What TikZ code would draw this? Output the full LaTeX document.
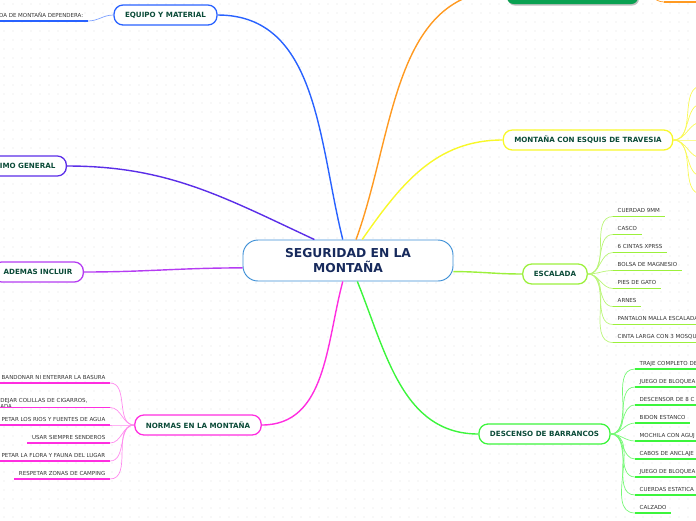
\documentclass[tikz,border=0pt]{standalone}
\usepackage{fontspec}
\setmainfont{DejaVu Sans}
\usepackage{xcolor}
\usepackage{tikz}
\usetikzlibrary{positioning,calc}
\definecolor{DOT}{HTML}{E2E2E2}
\definecolor{CORE}{HTML}{3D8FD6}
\definecolor{COREINK}{HTML}{172A5C}
\definecolor{LABEL}{HTML}{0B4B38}
\definecolor{LEAF}{HTML}{333333}
\definecolor{BLUE}{HTML}{2962FF}
\definecolor{INDIGO}{HTML}{5B2EE8}
\definecolor{VIOLET}{HTML}{B53CF2}
\definecolor{PINK}{HTML}{FF2EE0}
\definecolor{GREEN}{HTML}{3CF53C}
\definecolor{LIME}{HTML}{9CF03C}
\definecolor{YELLOW}{HTML}{F8F82A}
\definecolor{ORANGE}{HTML}{FF9A22}
\definecolor{TOPGREEN}{HTML}{0AA152}

\begin{document}
\begin{tikzpicture}[
  x=0.03cm, y=-0.03cm,
  core/.style={rounded corners=0.45cm, draw=CORE, fill=white, line width=0.8pt,
    minimum width=6.3cm, minimum height=1.23cm, align=center, text=COREINK,
    font=\fontsize{10.5}{12.8}\selectfont\bfseries},
  branch/.style={rounded corners=0.27cm, fill=white, line width=1.1pt,
    minimum height=0.6cm, inner xsep=0.33cm, inner ysep=0pt, text=LABEL,
    font=\fontsize{6.1}{7}\selectfont\bfseries},
  leafr/.style={anchor=south west, inner xsep=0.135cm, inner ysep=3pt,
    text depth=0pt, text=LEAF, font=\fontsize{4.7}{5.6}\selectfont},
  leafl/.style={leafr, anchor=south east},
  limb/.style={line width=1.2pt},
  twig/.style={line width=0.6pt},
  under/.style={line width=1.6pt},
]

\useasboundingbox (0,0) rectangle (696,520);
\clip (0,0) rectangle (696,520);

% ---- dotted paper ---------------------------------------------------------
\foreach \i in {4,13,...,700}
  \foreach \j in {4,13,...,520}
    \fill[DOT] (\i,\j) circle (0.45pt);

% ---- centre ---------------------------------------------------------------
\node[core] (core) at (348,260.5) {SEGURIDAD EN LA\\MONTAÑA};

% ---- branches -------------------------------------------------------------
\node[branch, draw=BLUE] (equip) at (165.5,15) {EQUIPO Y MATERIAL};
\node[branch, draw=INDIGO, anchor=east, text width=3cm, align=right] (minimo) at (67,166) {IMO GENERAL};
\node[branch, draw=VIOLET, anchor=east] (ademas) at (84,272) {ADEMAS INCLUIR};
\node[branch, draw=PINK] (normas) at (198,425) {NORMAS EN LA MONTAÑA};
\node[branch, draw=GREEN] (barr) at (544.5,434) {DESCENSO DE BARRANCOS};
\node[branch, draw=LIME] (esc) at (555,274) {ESCALADA};
\node[branch, draw=YELLOW] (esqui) at (588,140) {MONTAÑA CON ESQUIS DE TRAVESIA};
\fill[black!25, rounded corners=0.2cm] (508,-24) rectangle (639,5.5);
\node[fill=TOPGREEN, rounded corners=0.2cm, minimum width=3.93cm,
  minimum height=0.84cm] (top) at (572.5,-10) {};

% ---- limbs from the centre ------------------------------------------------
\draw[limb, BLUE] (core.104) to[out=104,in=0] (equip.east);
\draw[limb, INDIGO] (core.148) to[out=155,in=0] (minimo.east);
\draw[limb, VIOLET] (core.184) to[out=180,in=0] (ademas.east);
\draw[limb, PINK] (core.256) to[out=-105,in=0] (normas.east);
\draw[limb, GREEN] (core.294) to[out=-68,in=180] (barr.west);
\draw[limb, LIME] (core.-6) to[out=0,in=180] (esc.west);
\draw[limb, YELLOW] (core.56) to[out=55,in=180] (esqui.west);
\draw[limb, ORANGE] (core.69) to[out=70,in=180] (top.west);

% ---- equipo y material ----------------------------------------------------
\node[leafl] (eq1) at (88,21) {DA DE MONTAÑA DEPENDERA:};
\draw[twig, BLUE!60] (equip.west) to[out=180,in=0] (eq1.south east);
\draw[under, BLUE] (eq1.south west) -- (eq1.south east);

% ---- top (green) branch ---------------------------------------------------
\coordinate (topleaf) at (664,2);
\coordinate (topend) at (704,2);
\draw[twig, ORANGE] (top.east) to[out=0,in=180] (topleaf);
\draw[under, ORANGE] (topleaf) -- (topend);

% ---- esquis de travesia ---------------------------------------------------
\foreach \y in {86,104,...,194} {
  \coordinate (sk\y) at (702,\y);
  \draw[twig, YELLOW!80] (esqui.east) to[out=0,in=180] (sk\y);
}

% ---- escalada -------------------------------------------------------------
\foreach \t [count=\i] in {CUERDAD 9MM, CASCO, 6 CINTAS XPRSS, BOLSA DE MAGNESIO,
    PIES DE GATO, ARNES, PANTALON MALLA ESCALADA, CINTA LARGA CON 3 MOSQU} {
  \node[leafr] (e\i) at (613,{198.5+18*\i}) {\t};
  \draw[twig, LIME!70] (esc.east) to[out=0,in=180] (e\i.south west);
  \draw[under, LIME] (e\i.south west) -- (e\i.south east);
}

% ---- descenso de barrancos ------------------------------------------------
\foreach \t [count=\i] in {TRAJE COMPLETO DE, JUEGO DE BLOQUEA, DESCENSOR DE 8 C,
    BIDON ESTANCO, MOCHILA CON AGUJ, CABOS DE ANCLAJE, JUEGO DE BLOQUEA,
    CUERDAS ESTATICA, CALZADO} {
  \node[leafr] (d\i) at (635,{351+18*\i}) {\t};
  \draw[twig, GREEN!70] (barr.east) to[out=0,in=180] (d\i.south west);
  \draw[under, GREEN] (d\i.south west) -- (d\i.south east);
}

% ---- normas en la montana -------------------------------------------------
\node[leafl] (n1) at (110,383) {BANDONAR NI ENTERRAR LA BASURA};
\node[leafl, text width=3.15cm, align=left, inner ysep=4.5pt] (n2) at (110,407.5) {DEJAR COLILLAS DE CIGARROS,\\ADA};
\node[leafl] (n3) at (110,425) {PETAR LOS RIOS Y FUENTES DE AGUA};
\node[leafl] (n4) at (110,443) {USAR SIEMPRE SENDEROS};
\node[leafl] (n5) at (110,461) {PETAR LA FLORA Y FAUNA DEL LUGAR};
\node[leafl] (n6) at (110,479) {RESPETAR ZONAS DE CAMPING};
\foreach \n in {n1,n2,n3,n4,n5,n6} {
  \draw[twig, PINK!55] (normas.west) to[out=180,in=0] (\n.south east);
  \draw[under, PINK] (\n.south west) -- (\n.south east);
}

\end{tikzpicture}
\end{document}
